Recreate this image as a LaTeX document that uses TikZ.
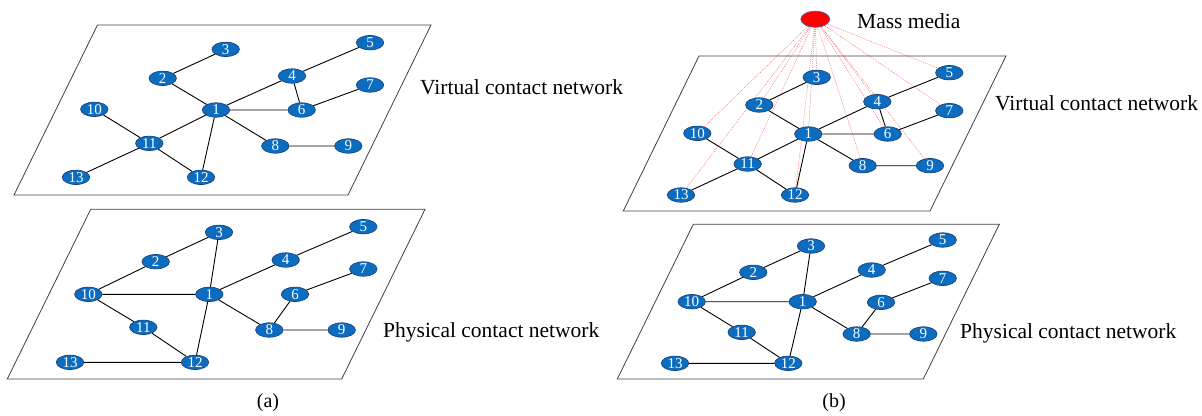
\documentclass[tikz,border=0pt]{standalone}
\usepackage{fontspec}
\setmainfont{Liberation Serif}
\usetikzlibrary{shapes.geometric,backgrounds}
\definecolor{nodeblue}{HTML}{0C6DC0}
\definecolor{nodeedge}{HTML}{1B3D73}
\definecolor{mediared}{HTML}{FF0000}
\definecolor{mediaedge}{HTML}{4A5FA8}
\tikzset{
  vtx/.style={ellipse, draw=nodeedge, fill=nodeblue, line width=0.6pt,
    minimum width=27.5pt, minimum height=14.5pt, inner sep=0pt, text=white,
    font=\fontsize{15}{15}\selectfont},
  media/.style={ellipse, draw=mediaedge, fill=mediared, line width=0.7pt,
    minimum width=29pt, minimum height=16pt, inner sep=0pt},
  plane/.style={draw=black!75, line width=0.8pt},
  edge/.style={draw=black, line width=0.9pt},
  medialink/.style={draw=red!60, line width=0.45pt, dash pattern=on 1pt off 1pt},
  lbl/.style={font=\fontsize{21.5}{24}\selectfont, anchor=west, inner sep=0pt},
  subcap/.style={font=\fontsize{20}{22}\selectfont, inner sep=0pt}
}
\begin{document}
\begin{tikzpicture}[x=1pt,y=-1pt]
\useasboundingbox (0,0) rectangle (1202,415);
% planes
\draw[plane] (14,195) -- (348,195) -- (431,25) -- (97.5,25) -- cycle;
\draw[plane] (7.3,379) -- (341.7,379) -- (425,209.3) -- (90.7,209.3) -- cycle;
\draw[plane] (623.3,211) -- (930,211) -- (1006,56) -- (699,56) -- cycle;
\draw[plane] (617.3,379) -- (923.3,379) -- (999.3,224.3) -- (693.3,224.3) -- cycle;

% (a) virtual
\node[vtx] (av1) at (216,110) {1};
\node[vtx] (av2) at (162.7,78.3) {2};
\node[vtx] (av3) at (225.7,49.3) {3};
\node[vtx] (av4) at (292,76) {4};
\node[vtx] (av5) at (370,42.7) {5};
\node[vtx] (av6) at (301.7,110) {6};
\node[vtx] (av7) at (370,85) {7};
\node[vtx] (av8) at (275.3,146) {8};
\node[vtx] (av9) at (348.3,146) {9};
\node[vtx] (av10) at (94.3,109.3) {10};
\node[vtx] (av11) at (149.3,143.3) {11};
\node[vtx] (av12) at (201,177.3) {12};
\node[vtx] (av13) at (76,177.3) {13};
\draw[edge] (av3)--(av2) (av2)--(av1) (av1)--(av4) (av4)--(av5) (av4)--(av6)
  (av1)--(av6) (av6)--(av7) (av1)--(av8) (av8)--(av9) (av1)--(av11)
  (av1)--(av12) (av10)--(av11) (av11)--(av13) (av11)--(av12);

% (a) physical
\node[vtx] (ap1) at (209.3,294.3) {1};
\node[vtx] (ap2) at (155.7,261.7) {2};
\node[vtx] (ap3) at (219,232.3) {3};
\node[vtx] (ap4) at (285.7,260) {4};
\node[vtx] (ap5) at (363.3,226.7) {5};
\node[vtx] (ap6) at (295,294.3) {6};
\node[vtx] (ap7) at (363.3,269) {7};
\node[vtx] (ap8) at (269.3,330) {8};
\node[vtx] (ap9) at (341.7,330) {9};
\node[vtx] (ap10) at (88.3,294.3) {10};
\node[vtx] (ap11) at (143.3,327.3) {11};
\node[vtx] (ap12) at (195,362.3) {12};
\node[vtx] (ap13) at (70,362.3) {13};
\draw[edge] (ap3)--(ap2) (ap2)--(ap10) (ap10)--(ap1) (ap3)--(ap1) (ap1)--(ap4)
  (ap4)--(ap5) (ap1)--(ap12) (ap1)--(ap8) (ap8)--(ap6) (ap6)--(ap7)
  (ap8)--(ap9) (ap10)--(ap11) (ap11)--(ap12) (ap13)--(ap12);

% (b) virtual
\node[vtx] (bv1) at (808.3,134) {1};
\node[vtx] (bv2) at (759.3,105) {2};
\node[vtx] (bv3) at (816.7,77.3) {3};
\node[vtx] (bv4) at (877.3,101.7) {4};
\node[vtx] (bv5) at (949.3,72.7) {5};
\node[vtx] (bv6) at (887.7,134) {6};
\node[vtx] (bv7) at (949.3,110.7) {7};
\node[vtx] (bv8) at (862.7,165.7) {8};
\node[vtx] (bv9) at (930,165.7) {9};
\node[vtx] (bv10) at (697.3,133.3) {10};
\node[vtx] (bv11) at (747.7,164) {11};
\node[vtx] (bv12) at (795,195) {12};
\node[vtx] (bv13) at (681,195) {13};
\draw[edge] (bv3)--(bv2) (bv2)--(bv1) (bv1)--(bv4) (bv4)--(bv5) (bv4)--(bv6)
  (bv1)--(bv6) (bv6)--(bv7) (bv1)--(bv8) (bv8)--(bv9) (bv1)--(bv11)
  (bv1)--(bv12) (bv10)--(bv11) (bv11)--(bv13) (bv11)--(bv12);

% mass media
\node[media] (mm) at (815.3,19.2) {};
\node[lbl] (mmlbl) at (857,21) {Mass media};
\begin{pgfonlayer}{background}
\foreach \i in {1,...,13} {
  \draw[medialink] (mm.center) -- (bv\i.center);
}
\end{pgfonlayer}

% (b) physical
\node[vtx] (bp1) at (802.7,301.7) {1};
\node[vtx] (bp2) at (753.3,272.3) {2};
\node[vtx] (bp3) at (811,246) {3};
\node[vtx] (bp4) at (871.7,270) {4};
\node[vtx] (bp5) at (942.7,240) {5};
\node[vtx] (bp6) at (881,302.3) {6};
\node[vtx] (bp7) at (942.7,278.3) {7};
\node[vtx] (bp8) at (856.7,334) {8};
\node[vtx] (bp9) at (923.3,334) {9};
\node[vtx] (bp10) at (691.7,301.7) {10};
\node[vtx] (bp11) at (741.7,332.3) {11};
\node[vtx] (bp12) at (788.3,363.3) {12};
\node[vtx] (bp13) at (675,363.3) {13};
\draw[edge] (bp3)--(bp2) (bp2)--(bp10) (bp10)--(bp1) (bp3)--(bp1) (bp1)--(bp4)
  (bp4)--(bp5) (bp1)--(bp12) (bp1)--(bp8) (bp8)--(bp6) (bp6)--(bp7)
  (bp8)--(bp9) (bp10)--(bp11) (bp11)--(bp12) (bp13)--(bp12);

% labels
\node[lbl] (lav) at (420,87) {Virtual contact network};
\node[lbl] (lap) at (383,332) {Physical contact network};
\node[lbl] (lbv) at (995,103) {Virtual contact network};
\node[lbl] (lbp) at (960,333) {Physical contact network};
\node[subcap] (capa) at (268,403) {(a)};
\node[subcap] (capb) at (834,403) {(b)};
\end{tikzpicture}
\end{document}
